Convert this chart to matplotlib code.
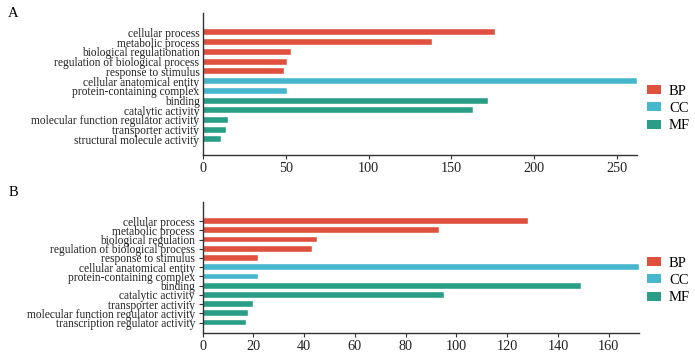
import numpy as np
import matplotlib
matplotlib.use('agg')
import matplotlib.pyplot as plt
from matplotlib.patches import Patch

plt.rcParams['font.family'] = ['Liberation Serif', 'DejaVu Serif']

#*********************************** DATA **************************************
terms_a = ["cellular process", "metabolic process", "biological regulationation",
           "regulation of biological process", "response to stimulus",
           "cellular anatomical entity", "protein-containing complex",
           "binding", "catalytic activity", "molecular function regulator activity",
           "transporter activity", "structural molecule activity"]
counts_a = [176, 138, 53, 51, 49, 262, 51, 172, 163, 15, 14, 11]
groups_a = ["BP", "BP", "BP", "BP", "BP", "CC", "CC", "MF", "MF", "MF", "MF", "MF"]

terms_b = ["cellular process", "metabolic process", "biological regulation",
           "regulation of biological process", "response to stimulus",
           "cellular anatomical entity", "protein-containing complex",
           "binding", "catalytic activity", "transporter activity",
           "molecular function regulator activity", "transcription regulator activity"]
counts_b = [128, 93, 45, 43, 22, 172, 22, 149, 95, 20, 18, 17]
groups_b = ["BP", "BP", "BP", "BP", "BP", "CC", "CC", "MF", "MF", "MF", "MF", "MF"]

ticks_a = [0, 50, 100, 150, 200, 250]
ticks_b = [0, 20, 40, 60, 80, 100, 120, 140, 160]

colors = {"BP": "#E0503F", "CC": "#47B7CE", "MF": "#2A9D86"}

#*********************************** HELPERS ***********************************
def draw_panel(ax, terms, counts, groups, ticks, xmax, ylim, ytickmarks, leg_y):
    n = len(terms)
    y = np.arange(n)[::-1]
    ax.barh(y, counts, height=0.62, color=[colors[g] for g in groups],
            edgecolor='white', linewidth=0.3)
    ax.set_yticks(y)
    ax.set_yticklabels(terms, fontsize=8.3, color='#222222')
    ax.set_xticks(ticks)
    ax.set_xticklabels([str(t) for t in ticks], fontsize=10.3, color='#222222')
    ax.set_xlim(0, xmax)
    ax.set_ylim(*ylim)
    for s in ['top', 'right']:
        ax.spines[s].set_visible(False)
    for s in ['left', 'bottom']:
        ax.spines[s].set_color('#333333')
        ax.spines[s].set_linewidth(1.0)
    ax.tick_params(axis='x', length=3, width=0.8, color='#333333', pad=2)
    ax.tick_params(axis='y', length=3 if ytickmarks else 0, width=0.8,
                   color='#333333', pad=2.5)
    handles = [Patch(facecolor=colors[k], edgecolor='none', label=k) for k in colors]
    fig.legend(handles=handles, loc='center left',
               bbox_to_anchor=(647 / 695, 1 - leg_y / 355),
               frameon=False, fontsize=10.5, handlelength=0.95, handleheight=0.55,
               handletextpad=0.55, labelspacing=0.3, borderpad=0, borderaxespad=0)

#************************************ MAIN *************************************
fig = plt.figure(figsize=(6.95, 3.55), dpi=100)
ax_a = fig.add_axes([0.292, 0.5634, 0.6245, 0.400])
ax_b = fig.add_axes([0.2914, 0.0628, 0.6285, 0.369])

draw_panel(ax_a, terms_a, counts_a, groups_a, ticks_a, 262, (-1.6, 13.0), False, 108.5)
draw_panel(ax_b, terms_b, counts_b, groups_b, ticks_b, 172, (-1.1, 13.1), True, 280.5)

fig.text(0.012, 0.963, "A", fontsize=10.5, va='center', ha='left')
fig.text(0.012, 0.459, "B", fontsize=10.5, va='center', ha='left')

plt.savefig("out.png", dpi=100)
